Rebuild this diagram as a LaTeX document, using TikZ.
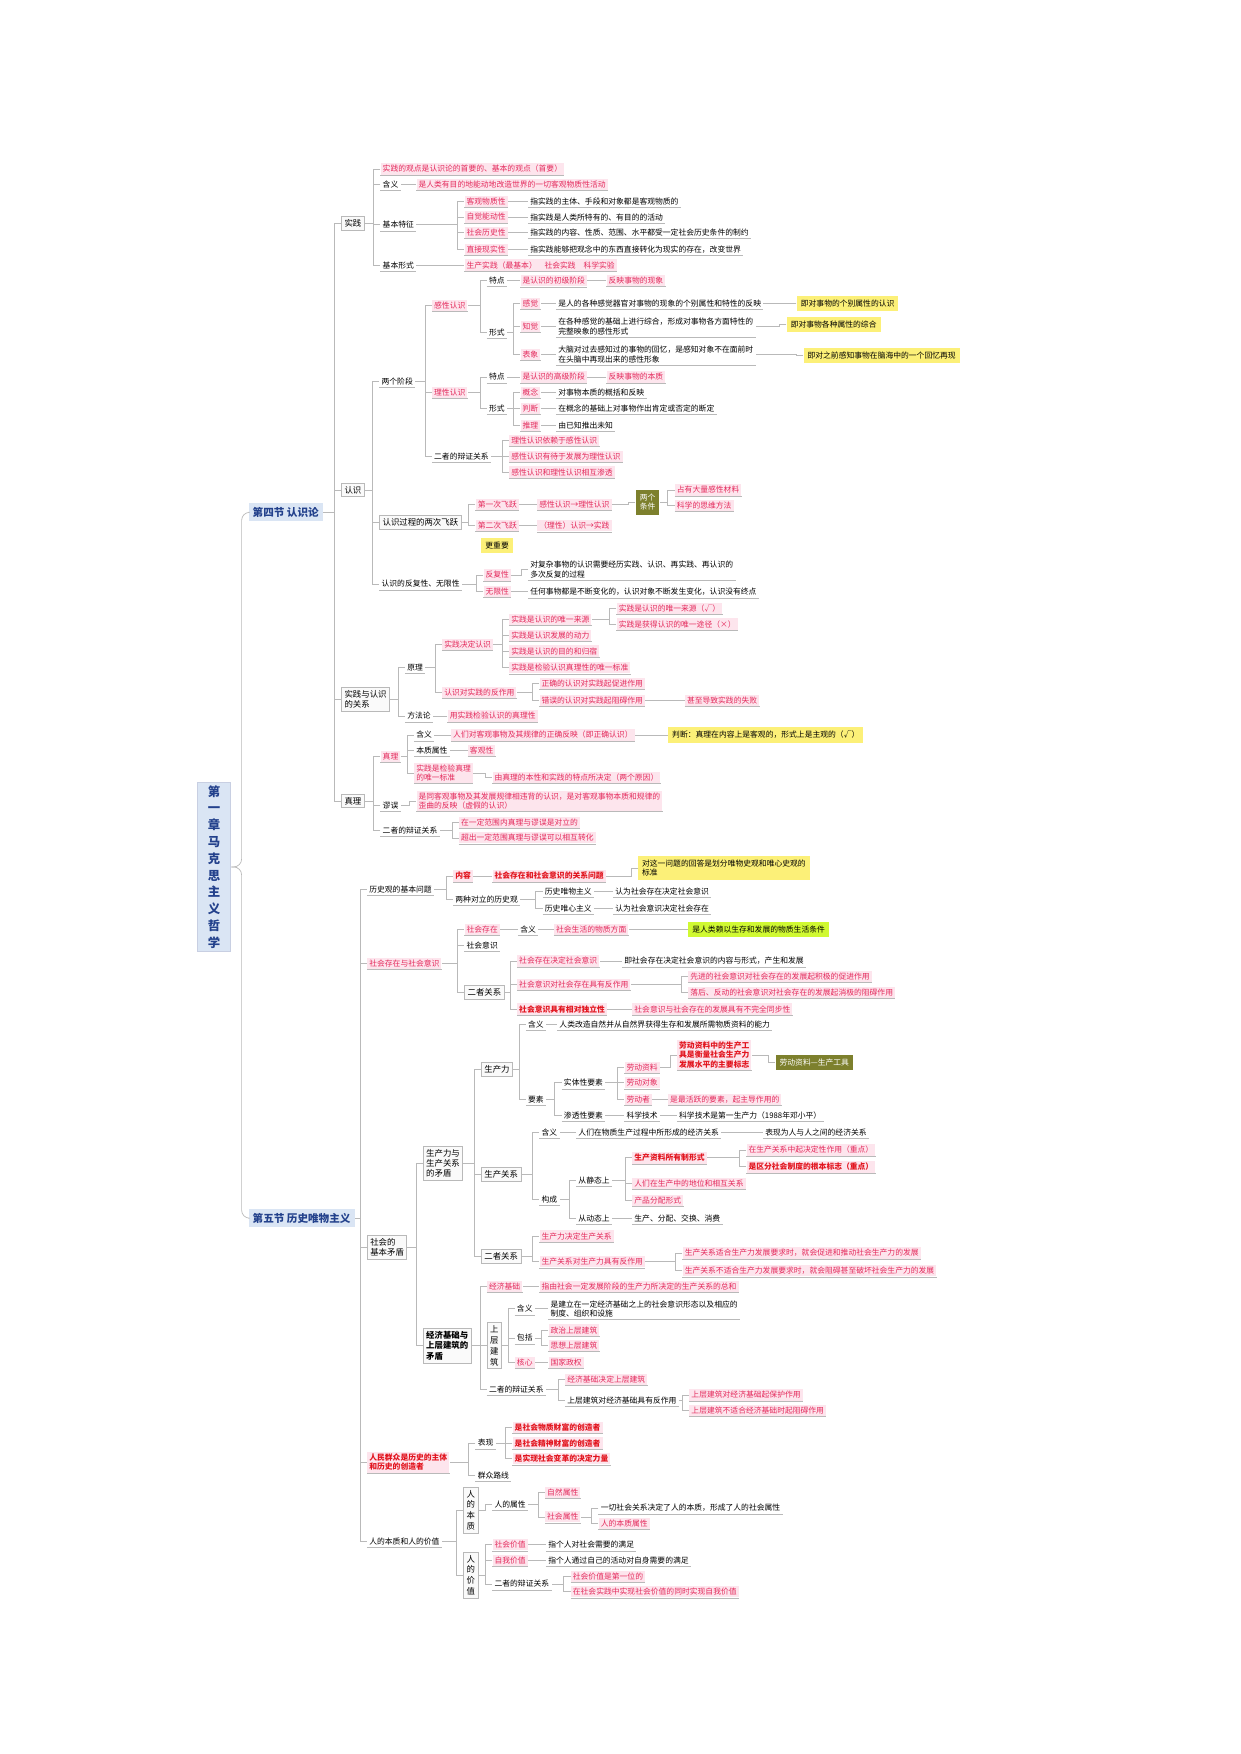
\documentclass[tikz,border=0pt]{standalone}
\usepackage{fontspec}
\setmainfont{Noto Sans CJK SC}
\usetikzlibrary{positioning}
\definecolor{redt}{RGB}{228,42,92}
\definecolor{pinkbg}{RGB}{253,229,237}
\definecolor{keyred}{RGB}{226,20,30}
\definecolor{linec}{RGB}{185,185,185}
\definecolor{notebg}{RGB}{252,240,120}
\definecolor{olivebox}{RGB}{125,128,45}
\definecolor{bluet}{RGB}{35,65,140}
\definecolor{bluebg}{RGB}{218,229,244}

\begin{document}
\begin{tikzpicture}[
    x=0.5595pt,y=-0.5595pt,
    every node/.style={anchor=west,inner sep=1pt,align=left,font=\fontsize{3.9}{4.7}\selectfont},
    ul/.style={append after command={(\tikzlastnode.south west) edge[draw=linec,line width=.3pt] (\tikzlastnode.south east)}},
    txt/.style={ul},
    hot/.style={ul,text=redt,fill=pinkbg},
    key/.style={ul,text=keyred,fill=pinkbg,font=\fontsize{3.9}{4.7}\selectfont\bfseries},
    note/.style={fill=notebg,inner sep=2pt},
    cond/.style={fill=olivebox,text=white,inner sep=2pt,align=center},
    box/.style={draw=linec,fill=gray!4,inner sep=1.5pt,font=\fontsize{4.2}{5.2}\selectfont},
    vbox/.style={box,align=center,font=\fontsize{4.2}{5.4}\selectfont},
    sect/.style={fill=bluebg,text=bluet,inner sep=2pt,font=\fontsize{5.3}{6}\selectfont\bfseries},
    con/.style={draw=linec,line width=.35pt}
    ]
    \useasboundingbox (0,0) rectangle (1109,1568);

    \node (root) [vbox,draw=bluet!25,fill=bluebg,text=bluet,minimum width=16.8pt,font=\fontsize{6.2}{8.4}\selectfont\bfseries] at (176,775) {第\\一\\章\\马\\克\\思\\主\\义\\哲\\学};
    \node (s4) [sect] at (222,458) {第四节 认识论};
    \node (s5) [sect] at (222,1089) {第五节 历史唯物主义};
    \foreach \k in {s4,s5}
      \draw[con,rounded corners=4] (\k.west) -- ++(-6,0) |- (root.east);

    % 实践
    \node (sj) [box] at (305,200) {实践};
    \node (sj0) [hot] at (340,151) {实践的观点是认识论的首要的、基本的观点（首要）};
    \node (sjhy) [txt] at (340,165) {含义};
    \node (sjhyd) [hot] at (372,165) {是人类有目的地能动地改造世界的一切客观物质性活动};
    \node (sjtz) [txt] at (340,201) {基本特征};
    \node (tz1) [hot] at (415,180) {客观物质性};
    \node (tz2) [hot] at (415,194) {自觉能动性};
    \node (tz3) [hot] at (415,208) {社会历史性};
    \node (tz4) [hot] at (415,223) {直接现实性};
    \node (td1) [txt] at (472,180) {指实践的主体、手段和对象都是客观物质的};
    \node (td2) [txt] at (472,194) {指实践是人类所特有的、有目的的活动};
    \node (td3) [txt] at (472,208) {指实践的内容、性质、范围、水平都受一定社会历史条件的制约};
    \node (td4) [txt] at (472,223) {指实践能够把观念中的东西直接转化为现实的存在，改变世界};
    \node (sjxs) [txt] at (340,237) {基本形式};
    \node (sjxsd) [hot] at (415,237) {生产实践（最基本）\quad 社会实践\quad 科学实验};
    \foreach \k in {sj0,sjhy,sjtz,sjxs}
      \draw[con] (\k.west) -- ++(-6,0) |- (sj.east);
    \draw[con] (sjhyd.west) -- ++(-6,0) |- (sjhy.east);
    \foreach \i in {1,...,4}
      \draw[con] (tz\i.west) -- ++(-6,0) |- (sjtz.east);
    \foreach \i in {1,...,4}
      \draw[con] (td\i.west) -- ++(-6,0) |- (tz\i.east);
    \draw[con] (sjxsd.west) -- ++(-6,0) |- (sjxs.east);

    % 认识
    \node (rs) [box] at (305,438) {认识};
    \node (ljd) [txt] at (339,341) {两个阶段};
    \node (gx) [hot] at (386,273) {感性认识};
    \node (gxtd) [txt] at (435,251) {特点};
    \node (gxt1) [hot] at (465,251) {是认识的初级阶段};
    \node (gxt2) [hot] at (542,251) {反映事物的现象};
    \node (gxxs) [txt] at (435,297) {形式};
    \node (gj) [hot] at (465,271) {感觉};
    \node (gjd) [txt] at (497,271) {是人的各种感觉器官对事物的现象的个别属性和特性的反映};
    \node (gjn) [note] at (712,271) {即对事物的个别属性的认识};
    \node (zj) [hot] at (465,292) {知觉};
    \node (zjd) [txt] at (497,292) {在各种感觉的基础上进行综合，形成对事物各方面特性的\\完整映象的感性形式};
    \node (zjn) [note] at (703,290) {即对事物各种属性的综合};
    \node (bx) [hot] at (465,317) {表象};
    \node (bxd) [txt] at (497,317) {大脑对过去感知过的事物的回忆，是感知对象不在面前时\\在头脑中再现出来的感性形象};
    \node (bxn) [note] at (718,318) {即对之前感知事物在脑海中的一个回忆再现};
    \node (lx) [hot] at (386,351) {理性认识};
    \node (lxtd) [txt] at (435,337) {特点};
    \node (lxt1) [hot] at (465,337) {是认识的高级阶段};
    \node (lxt2) [hot] at (542,337) {反映事物的本质};
    \node (lxxs) [txt] at (435,365) {形式};
    \node (gn) [hot] at (465,351) {概念};
    \node (gnd) [txt] at (497,351) {对事物本质的概括和反映};
    \node (pd) [hot] at (465,365) {判断};
    \node (pdd) [txt] at (497,365) {在概念的基础上对事物作出肯定或否定的断定};
    \node (tl) [hot] at (465,380) {推理};
    \node (tld) [txt] at (497,380) {由已知推出未知};
    \node (bz) [txt] at (386,408) {二者的辩证关系};
    \node (bz1) [hot] at (455,394) {理性认识依赖于感性认识};
    \node (bz2) [hot] at (455,408) {感性认识有待于发展为理性认识};
    \node (bz3) [hot] at (455,422) {感性认识和理性认识相互渗透};
    \node (fy) [box] at (339,467) {认识过程的两次飞跃};
    \node (fy1) [hot] at (425,451) {第一次飞跃};
    \node (fy1d) [hot] at (480,451) {感性认识→理性认识};
    \node (tj) [cond] at (568,449) {两个\\条件};
    \node (tj1) [hot] at (603,438) {占有大量感性材料};
    \node (tj2) [hot] at (603,452) {科学的思维方法};
    \node (fy2) [hot] at (425,470) {第二次飞跃};
    \node (fy2d) [hot] at (480,470) {（理性）认识→实践};
    \node (gzy) [note] at (430,488) {更重要};
    \node (ff) [txt] at (339,522) {认识的反复性、无限性};
    \node (ffx) [hot] at (432,514) {反复性};
    \node (ffxd) [txt] at (472,509) {对复杂事物的认识需要经历实践、认识、再实践、再认识的\\多次反复的过程};
    \node (wxx) [hot] at (432,529) {无限性};
    \node (wxxd) [txt] at (472,529) {任何事物都是不断变化的，认识对象不断发生变化，认识没有终点};
    \foreach \k in {ljd,fy,ff}
      \draw[con] (\k.west) -- ++(-6,0) |- (rs.east);
    \foreach \k in {gx,lx,bz}
      \draw[con] (\k.west) -- ++(-6,0) |- (ljd.east);
    \foreach \k in {gxtd,gxxs}
      \draw[con] (\k.west) -- ++(-6,0) |- (gx.east);
    \foreach \k in {lxtd,lxxs}
      \draw[con] (\k.west) -- ++(-6,0) |- (lx.east);
    \foreach \k in {gj,zj,bx}
      \draw[con] (\k.west) -- ++(-6,0) |- (gxxs.east);
    \foreach \k in {gn,pd,tl}
      \draw[con] (\k.west) -- ++(-6,0) |- (lxxs.east);
    \foreach \k in {bz1,bz2,bz3}
      \draw[con] (\k.west) -- ++(-6,0) |- (bz.east);
    \foreach \a/\b in {gxtd/gxt1,gxt1/gxt2,lxtd/lxt1,lxt1/lxt2,gj/gjd,gjd/gjn,zj/zjd,zjd/zjn,bx/bxd,bxd/bxn,gn/gnd,pd/pdd,tl/tld}
      \draw[con] (\b.west) -- ++(-6,0) |- (\a.east);
    \foreach \k in {fy1,fy2}
      \draw[con] (\k.west) -- ++(-6,0) |- (fy.east);
    \foreach \a/\b in {fy1/fy1d,fy1d/tj,fy2/fy2d,ffx/ffxd,wxx/wxxd}
      \draw[con] (\b.west) -- ++(-6,0) |- (\a.east);
    \foreach \k in {tj1,tj2}
      \draw[con] (\k.west) -- ++(-6,0) |- (tj.east);
    \foreach \k in {ffx,wxx}
      \draw[con] (\k.west) -- ++(-6,0) |- (ff.east);

    % 实践与认识的关系
    \node (gxi) [box] at (305,625) {实践与认识\\的关系};
    \node (yl) [txt] at (362,597) {原理};
    \node (jd) [hot] at (395,576) {实践决定认识};
    \node (jd1) [hot] at (455,554) {实践是认识的唯一来源};
    \node (jd1a) [hot] at (551,544) {实践是认识的唯一来源（√）};
    \node (jd1b) [hot] at (551,558) {实践是获得认识的唯一途径（×）};
    \node (jd2) [hot] at (455,568) {实践是认识发展的动力};
    \node (jd3) [hot] at (455,582) {实践是认识的目的和归宿};
    \node (jd4) [hot] at (455,597) {实践是检验认识真理性的唯一标准};
    \node (fz) [hot] at (395,619) {认识对实践的反作用};
    \node (fz1) [hot] at (482,611) {正确的认识对实践起促进作用};
    \node (fz2) [hot] at (482,626) {错误的认识对实践起阻碍作用};
    \node (fz2d) [hot] at (612,626) {甚至导致实践的失败};
    \node (ffl) [txt] at (362,640) {方法论};
    \node (ffld) [hot] at (400,640) {用实践检验认识的真理性};
    \foreach \k in {yl,ffl}
      \draw[con] (\k.west) -- ++(-6,0) |- (gxi.east);
    \foreach \k in {jd,fz}
      \draw[con] (\k.west) -- ++(-6,0) |- (yl.east);
    \foreach \k in {jd1,jd2,jd3,jd4}
      \draw[con] (\k.west) -- ++(-6,0) |- (jd.east);
    \foreach \k in {jd1a,jd1b}
      \draw[con] (\k.west) -- ++(-6,0) |- (jd1.east);
    \foreach \k in {fz1,fz2}
      \draw[con] (\k.west) -- ++(-6,0) |- (fz.east);
    \foreach \a/\b in {fz2/fz2d,ffl/ffld}
      \draw[con] (\b.west) -- ++(-6,0) |- (\a.east);

    % 真理
    \node (zl) [box] at (305,716) {真理};
    \node (zl0) [hot] at (340,676) {真理};
    \node (zlhy) [txt] at (370,657) {含义};
    \node (zlhyd) [hot] at (403,657) {人们对客观事物及其规律的正确反映（即正确认识）};
    \node (zln) [note] at (597,657) {判断：真理在内容上是客观的，形式上是主观的（√）};
    \node (zlsx) [txt] at (370,671) {本质属性};
    \node (zlsxd) [hot] at (418,671) {客观性};
    \node (zlbz) [hot] at (370,691) {实践是检验真理\\的唯一标准};
    \node (zlbzd) [hot] at (440,695) {由真理的本性和实践的特点所决定（两个原因）};
    \node (mw) [txt] at (340,720) {谬误};
    \node (mwd) [hot] at (372,716) {是同客观事物及其发展规律相违背的认识，是对客观事物本质和规律的\\歪曲的反映（虚假的认识）};
    \node (zlgx) [txt] at (340,742) {二者的辩证关系};
    \node (zlg1) [hot] at (410,735) {在一定范围内真理与谬误是对立的};
    \node (zlg2) [hot] at (410,749) {超出一定范围真理与谬误可以相互转化};
    \foreach \k in {zl0,mw,zlgx}
      \draw[con] (\k.west) -- ++(-6,0) |- (zl.east);
    \foreach \k in {zlhy,zlsx,zlbz}
      \draw[con] (\k.west) -- ++(-6,0) |- (zl0.east);
    \foreach \a/\b in {zlhy/zlhyd,zlhyd/zln,zlsx/zlsxd,zlbz/zlbzd,mw/mwd}
      \draw[con] (\b.west) -- ++(-6,0) |- (\a.east);
    \foreach \k in {zlg1,zlg2}
      \draw[con] (\k.west) -- ++(-6,0) |- (zlgx.east);
    \foreach \k in {sj,rs,gxi,zl}
      \draw[con] (\k.west) -- ++(-6,0) |- (s4.east);

    % 历史观的基本问题
    \node (ls) [txt] at (328,795) {历史观的基本问题};
    \node (nr) [key] at (405,783) {内容};
    \node (nrd) [key] at (440,783) {社会存在和社会意识的关系问题};
    \node (nrn) [note] at (570,776) {对这一问题的回答是划分唯物史观和唯心史观的\\标准};
    \node (dl) [txt] at (405,804) {两种对立的历史观};
    \node (wu) [txt] at (485,797) {历史唯物主义};
    \node (wud) [txt] at (548,797) {认为社会存在决定社会意识};
    \node (wx) [txt] at (485,812) {历史唯心主义};
    \node (wxd) [txt] at (548,812) {认为社会意识决定社会存在};
    \foreach \k in {nr,dl}
      \draw[con] (\k.west) -- ++(-6,0) |- (ls.east);
    \foreach \k in {wu,wx}
      \draw[con] (\k.west) -- ++(-6,0) |- (dl.east);
    \foreach \a/\b in {nr/nrd,nrd/nrn,wu/wud,wx/wxd}
      \draw[con] (\b.west) -- ++(-6,0) |- (\a.east);

    % 社会存在与社会意识
    \node (cy) [hot] at (328,861) {社会存在与社会意识};
    \node (cz) [hot] at (415,831) {社会存在};
    \node (czhy) [txt] at (463,831) {含义};
    \node (czd) [hot] at (495,831) {社会生活的物质方面};
    \node (czn) [note,fill=notebg!70!green!60!yellow] at (615,831) {是人类赖以生存和发展的物质生活条件};
    \node (ys) [txt] at (415,845) {社会意识};
    \node (eg) [box] at (415,887) {二者关系};
    \node (eg1) [hot] at (462,859) {社会存在决定社会意识};
    \node (eg1d) [txt] at (556,859) {即社会存在决定社会意识的内容与形式，产生和发展};
    \node (eg2) [hot] at (462,880) {社会意识对社会存在具有反作用};
    \node (eg2a) [hot] at (615,873) {先进的社会意识对社会存在的发展起积极的促进作用};
    \node (eg2b) [hot] at (615,887) {落后、反动的社会意识对社会存在的发展起消极的阻碍作用};
    \node (eg3) [key] at (462,902) {社会意识具有相对独立性};
    \node (eg3d) [hot] at (565,902) {社会意识与社会存在的发展具有不完全同步性};
    \foreach \k in {cz,ys,eg}
      \draw[con] (\k.west) -- ++(-6,0) |- (cy.east);
    \foreach \a/\b in {cz/czhy,czhy/czd,czd/czn,eg1/eg1d,eg3/eg3d}
      \draw[con] (\b.west) -- ++(-6,0) |- (\a.east);
    \foreach \k in {eg1,eg2,eg3}
      \draw[con] (\k.west) -- ++(-6,0) |- (eg.east);
    \foreach \k in {eg2a,eg2b}
      \draw[con] (\k.west) -- ++(-6,0) |- (eg2.east);

    % 社会的基本矛盾
    \node (jb) [box] at (328,1115) {社会的\\基本矛盾};
    \node (sm) [box] at (378,1040) {生产力与\\生产关系\\的矛盾};
    \node (sc) [box] at (430,956) {生产力};
    \node (schy) [txt] at (470,916) {含义};
    \node (schyd) [txt] at (498,916) {人类改造自然并从自然界获得生存和发展所需物质资料的能力};
    \node (scys) [txt] at (470,983) {要素};
    \node (st) [txt] at (502,968) {实体性要素};
    \node (ld1) [hot] at (558,954) {劳动资料};
    \node (ld1d) [key] at (605,943) {劳动资料中的生产工\\具是衡量社会生产力\\发展水平的主要标志};
    \node (gjx) [cond] at (693,950) {劳动资料—生产工具};
    \node (ld2) [hot] at (558,968) {劳动对象};
    \node (ld3) [hot] at (558,983) {劳动者};
    \node (ld3d) [hot] at (597,983) {是最活跃的要素，起主导作用的};
    \node (sts) [txt] at (502,997) {渗透性要素};
    \node (kj) [txt] at (558,997) {科学技术};
    \node (kjd) [txt] at (605,997) {科学技术是第一生产力（1988年邓小平）};
    \foreach \k in {schy,scys}
      \draw[con] (\k.west) -- ++(-6,0) |- (sc.east);
    \foreach \k in {st,sts}
      \draw[con] (\k.west) -- ++(-6,0) |- (scys.east);
    \foreach \k in {ld1,ld2,ld3}
      \draw[con] (\k.west) -- ++(-6,0) |- (st.east);
    \foreach \a/\b in {schy/schyd,ld1/ld1d,ld1d/gjx,ld3/ld3d,sts/kj,kj/kjd}
      \draw[con] (\b.west) -- ++(-6,0) |- (\a.east);

    \node (gxs) [box] at (430,1050) {生产关系};
    \node (gxhy) [txt] at (482,1012) {含义};
    \node (gxhyd) [txt] at (515,1012) {人们在物质生产过程中所形成的经济关系};
    \node (gxhye) [txt] at (682,1012) {表现为人与人之间的经济关系};
    \node (gc) [txt] at (482,1072) {构成};
    \node (jt) [txt] at (515,1055) {从静态上};
    \node (syz) [key] at (565,1035) {生产资料所有制形式};
    \node (syz1) [hot] at (667,1028) {在生产关系中起决定性作用（重点）};
    \node (syz2) [key] at (667,1043) {是区分社会制度的根本标志（重点）};
    \node (dw) [hot] at (565,1058) {人们在生产中的地位和相互关系};
    \node (fp) [hot] at (565,1073) {产品分配形式};
    \node (dt) [txt] at (515,1089) {从动态上};
    \node (dtd) [txt] at (565,1089) {生产、分配、交换、消费};
    \foreach \k in {gxhy,gc}
      \draw[con] (\k.west) -- ++(-6,0) |- (gxs.east);
    \foreach \k in {jt,dt}
      \draw[con] (\k.west) -- ++(-6,0) |- (gc.east);
    \foreach \k in {syz,dw,fp}
      \draw[con] (\k.west) -- ++(-6,0) |- (jt.east);
    \foreach \k in {syz1,syz2}
      \draw[con] (\k.west) -- ++(-6,0) |- (syz.east);
    \foreach \a/\b in {gxhy/gxhyd,gxhyd/gxhye,dt/dtd}
      \draw[con] (\b.west) -- ++(-6,0) |- (\a.east);

    \node (eq) [box] at (430,1123) {二者关系};
    \node (eq1) [hot] at (482,1105) {生产力决定生产关系};
    \node (eq2) [hot] at (482,1128) {生产关系对生产力具有反作用};
    \node (eq2a) [hot] at (610,1120) {生产关系适合生产力发展要求时，就会促进和推动社会生产力的发展};
    \node (eq2b) [hot] at (610,1136) {生产关系不适合生产力发展要求时，就会阻碍甚至破坏社会生产力的发展};
    \foreach \k in {eq1,eq2}
      \draw[con] (\k.west) -- ++(-6,0) |- (eq.east);
    \foreach \k in {eq2a,eq2b}
      \draw[con] (\k.west) -- ++(-6,0) |- (eq2.east);
    \foreach \k in {sc,gxs,eq}
      \draw[con] (\k.west) -- ++(-6,0) |- (sm.east);

    \node (jj) [box,font=\fontsize{4.2}{5.2}\selectfont\bfseries] at (378,1203) {经济基础与\\上层建筑的\\矛盾};
    \node (jjjc) [hot] at (435,1150) {经济基础};
    \node (jjjcd) [hot] at (482,1150) {指由社会一定发展阶段的生产力所决定的生产关系的总和};
    \node (scjz) [vbox] at (435,1203) {上\\层\\建\\筑};
    \node (jzhy) [txt] at (460,1170) {含义};
    \node (jzhyd) [txt] at (490,1170) {是建立在一定经济基础之上的社会意识形态以及相应的\\制度、组织和设施};
    \node (bk) [txt] at (460,1196) {包括};
    \node (zz) [hot] at (490,1189) {政治上层建筑};
    \node (sx) [hot] at (490,1203) {思想上层建筑};
    \node (hx) [hot] at (460,1218) {核心};
    \node (hxd) [hot] at (490,1218) {国家政权};
    \node (jjbz) [txt] at (435,1242) {二者的辩证关系};
    \node (jb1) [hot] at (505,1233) {经济基础决定上层建筑};
    \node (jb2) [txt] at (505,1252) {上层建筑对经济基础具有反作用};
    \node (jb2a) [hot] at (616,1247) {上层建筑对经济基础起保护作用};
    \node (jb2b) [hot] at (616,1261) {上层建筑不适合经济基础时起阻碍作用};
    \foreach \k in {jjjc,scjz,jjbz}
      \draw[con] (\k.west) -- ++(-6,0) |- (jj.east);
    \foreach \k in {jzhy,bk,hx}
      \draw[con] (\k.west) -- ++(-6,0) |- (scjz.east);
    \foreach \k in {zz,sx}
      \draw[con] (\k.west) -- ++(-6,0) |- (bk.east);
    \foreach \k in {jb1,jb2}
      \draw[con] (\k.west) -- ++(-6,0) |- (jjbz.east);
    \foreach \k in {jb2a,jb2b}
      \draw[con] (\k.west) -- ++(-6,0) |- (jb2.east);
    \foreach \a/\b in {jjjc/jjjcd,jzhy/jzhyd,hx/hxd}
      \draw[con] (\b.west) -- ++(-6,0) |- (\a.east);
    \foreach \k in {sm,jj}
      \draw[con] (\k.west) -- ++(-6,0) |- (jb.east);

    % 人民群众
    \node (qz) [key] at (328,1307) {人民群众是历史的主体\\和历史的创造者};
    \node (biao) [txt] at (425,1290) {表现};
    \node (cf1) [key] at (458,1276) {是社会物质财富的创造者};
    \node (cf2) [key] at (458,1290) {是社会精神财富的创造者};
    \node (cf3) [key] at (458,1304) {是实现社会变革的决定力量};
    \node (qzlx) [txt] at (425,1319) {群众路线};
    \foreach \k in {biao,qzlx}
      \draw[con] (\k.west) -- ++(-6,0) |- (qz.east);
    \foreach \k in {cf1,cf2,cf3}
      \draw[con] (\k.west) -- ++(-6,0) |- (biao.east);

    % 人的本质和人的价值
    \node (rb) [txt] at (328,1378) {人的本质和人的价值};
    \node (rbz) [vbox] at (414,1350) {人\\的\\本\\质};
    \node (rsx) [txt] at (440,1345) {人的属性};
    \node (zr) [hot] at (487,1334) {自然属性};
    \node (sh) [hot] at (487,1356) {社会属性};
    \node (sh1) [txt] at (535,1348) {一切社会关系决定了人的本质，形成了人的社会属性};
    \node (sh2) [hot] at (535,1362) {人的本质属性};
    \node (rjz) [vbox] at (414,1408) {人\\的\\价\\值};
    \node (shjz) [hot] at (440,1381) {社会价值};
    \node (shjzd) [txt] at (488,1381) {指个人对社会需要的满足};
    \node (zwjz) [hot] at (440,1395) {自我价值};
    \node (zwjzd) [txt] at (488,1395) {指个人通过自己的活动对自身需要的满足};
    \node (rbg) [txt] at (440,1416) {二者的辩证关系};
    \node (rg1) [hot] at (510,1409) {社会价值是第一位的};
    \node (rg2) [hot] at (510,1423) {在社会实践中实现社会价值的同时实现自我价值};
    \foreach \k in {rbz,rjz}
      \draw[con] (\k.west) -- ++(-6,0) |- (rb.east);
    \draw[con] (rsx.west) -- ++(-6,0) |- (rbz.east);
    \foreach \k in {zr,sh}
      \draw[con] (\k.west) -- ++(-6,0) |- (rsx.east);
    \foreach \k in {sh1,sh2}
      \draw[con] (\k.west) -- ++(-6,0) |- (sh.east);
    \foreach \k in {shjz,zwjz,rbg}
      \draw[con] (\k.west) -- ++(-6,0) |- (rjz.east);
    \foreach \a/\b in {shjz/shjzd,zwjz/zwjzd}
      \draw[con] (\b.west) -- ++(-6,0) |- (\a.east);
    \foreach \k in {rg1,rg2}
      \draw[con] (\k.west) -- ++(-6,0) |- (rbg.east);

    \foreach \k in {ls,cy,jb,qz,rb}
      \draw[con] (\k.west) -- ++(-6,0) |- (s5.east);
\end{tikzpicture}
\end{document}
